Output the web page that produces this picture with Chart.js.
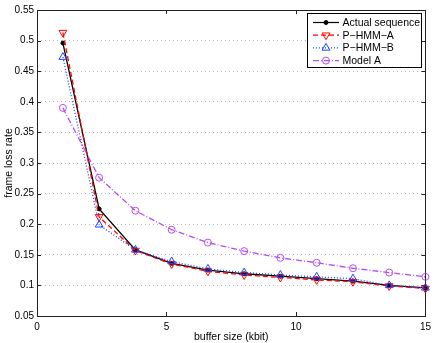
<!DOCTYPE html>
<html>
<head>
<meta charset="utf-8">
<script src="https://cdn.jsdelivr.net/npm/chart.js@4.4.1/dist/chart.umd.min.js"></script>
<style>
  html, body { margin: 0; padding: 0; background: #fff; }
  #wrap { width: 436px; height: 343px; }
</style>
</head>
<body>
<div id="wrap"><canvas id="c" width="436" height="343"></canvas></div>
<script>
// buffer sizes (kbit) on the x axis
const bufferSize = [1, 2.4, 3.8, 5.2, 6.6, 8, 9.4, 10.8, 12.2, 13.6, 15];

// frame loss rate per series
const actualSeq = [0.496, 0.225, 0.158, 0.136, 0.125, 0.119, 0.115, 0.111, 0.107, 0.100, 0.096];
const phmmA     = [0.513, 0.212, 0.157, 0.135, 0.123, 0.117, 0.113, 0.109, 0.106, 0.099, 0.095];
const phmmB     = [0.473, 0.199, 0.158, 0.139, 0.127, 0.121, 0.117, 0.114, 0.111, 0.100, 0.096];
const modelA    = [0.390, 0.276, 0.222, 0.191, 0.170, 0.156, 0.145, 0.137, 0.128, 0.121, 0.114];

const seriesNames = ['Actual sequence', 'P\u2212HMM\u2212A', 'P\u2212HMM\u2212B', 'Model A'];

const xTicks = [0, 5, 10, 15];
const yTicks = [0.05, 0.1, 0.15, 0.2, 0.25, 0.3, 0.35, 0.4, 0.45, 0.5, 0.55];

const FONT = "'Liberation Sans', Arial, Helvetica, sans-serif";
Chart.defaults.font.family = FONT;
Chart.defaults.font.size = 10;
Chart.defaults.color = '#000';

const toXY = ys => ys.map((y, i) => ({ x: bufferSize[i], y: y }));

// simple marker painter, shared by chart legend
function marker(ctx, style, x, y, r, color, fill) {
  ctx.save();
  ctx.strokeStyle = color;
  ctx.fillStyle = fill;
  ctx.lineWidth = 1;
  ctx.setLineDash([]);
  ctx.beginPath();
  if (style === 'circle') {
    ctx.arc(x, y, r, 0, Math.PI * 2);
  } else if (style === 'triUp') {
    ctx.moveTo(x, y - r);
    ctx.lineTo(x + r * 0.87, y + r * 0.5);
    ctx.lineTo(x - r * 0.87, y + r * 0.5);
    ctx.closePath();
  } else if (style === 'triDown') {
    ctx.moveTo(x, y + r);
    ctx.lineTo(x + r * 0.87, y - r * 0.5);
    ctx.lineTo(x - r * 0.87, y - r * 0.5);
    ctx.closePath();
  }
  ctx.fill();
  ctx.stroke();
  ctx.restore();
}

const legendItems = [
  { name: seriesNames[0], color: '#000000', dash: [], m: 'circle', r: 2, fill: '#000000' },
  { name: seriesNames[1], color: '#ff0000', dash: [5, 3], m: 'triDown', r: 4.5, fill: 'rgba(0,0,0,0)' },
  { name: seriesNames[2], color: '#1a44ff', dash: [1, 2], m: 'triUp', r: 4.5, fill: 'rgba(0,0,0,0)' },
  { name: seriesNames[3], color: '#b44cf0', dash: [6, 2, 1, 2], m: 'circle', r: 3.5, fill: 'rgba(0,0,0,0)' }
];

const framePlugin = {
  id: 'frame',
  beforeDatasetsDraw(chart) {
    const { ctx, chartArea: a, scales } = chart;
    ctx.save();
    ctx.strokeStyle = '#222';
    ctx.lineWidth = 1;
    ctx.strokeRect(Math.round(a.left) + 0.5, Math.round(a.top) + 0.5,
                   Math.round(a.right - a.left), Math.round(a.bottom - a.top));
    ctx.beginPath();
    yTicks.forEach(v => {
      const py = Math.round(scales.y.getPixelForValue(v)) + 0.5;
      ctx.moveTo(a.left, py); ctx.lineTo(a.left + 4, py);
      ctx.moveTo(a.right, py); ctx.lineTo(a.right - 4, py);
    });
    xTicks.forEach(v => {
      const px = Math.round(scales.x.getPixelForValue(v)) + 0.5;
      ctx.moveTo(px, a.bottom); ctx.lineTo(px, a.bottom - 4);
      ctx.moveTo(px, a.top); ctx.lineTo(px, a.top + 4);
    });
    ctx.stroke();
    ctx.restore();
  },
  afterDraw(chart) {
    const ctx = chart.ctx;
    const bx = 307.5, by = 13.5, bw = 114, bh = 54;
    ctx.save();
    ctx.fillStyle = '#fff';
    ctx.fillRect(bx, by, bw, bh);
    ctx.strokeStyle = '#000';
    ctx.lineWidth = 1;
    ctx.strokeRect(bx, by, bw, bh);
    ctx.font = '10.5px ' + FONT;
    ctx.textBaseline = 'middle';
    ctx.textAlign = 'left';
    legendItems.forEach((it, i) => {
      const y = 22.5 + i * 12.7;
      ctx.strokeStyle = it.color;
      ctx.lineWidth = 1.2;
      ctx.setLineDash(it.dash);
      ctx.beginPath();
      ctx.moveTo(313, y); ctx.lineTo(339, y);
      ctx.stroke();
      ctx.setLineDash([]);
      marker(ctx, it.m, 326, y, it.r, it.color, it.fill);
      ctx.fillStyle = '#000';
      ctx.fillText(it.name, 342.5, y + 0.5);
    });
    ctx.restore();
  }
};

const mkSet = (idx, data, ord) => {
  const it = legendItems[idx];
  return {
    label: it.name,
    data: toXY(data),
    borderColor: it.color,
    borderWidth: 1.3,
    borderDash: it.dash,
    pointStyle: it.m === 'circle' ? 'circle' : 'triangle',
    rotation: it.m === 'triDown' ? 180 : 0,
    pointRadius: it.r,
    pointBorderWidth: 1,
    pointBackgroundColor: it.fill,
    pointBorderColor: it.color,
    fill: false,
    tension: 0,
    clip: false,
    order: ord
  };
};

new Chart(document.getElementById('c'), {
  type: 'line',
  data: {
    datasets: [
      mkSet(0, actualSeq, 4),
      mkSet(1, phmmA, 3),
      mkSet(2, phmmB, 2),
      mkSet(3, modelA, 1)
    ]
  },
  options: {
    responsive: false,
    animation: false,
    devicePixelRatio: 1,
    layout: { padding: { left: 0, right: 10, top: 10, bottom: 0 } },
    plugins: { legend: { display: false }, tooltip: { enabled: false } },
    scales: {
      x: {
        type: 'linear',
        min: 0, max: 15,
        afterBuildTicks: s => { s.ticks = xTicks.map(v => ({ value: v })); },
        afterFit: s => { s.height = 27; },
        grid: { display: false, drawTicks: false },
        border: { display: false },
        ticks: { padding: 5, maxRotation: 0, font: { size: 10 } },
        title: { display: true, text: 'buffer size (kbit)', font: { size: 10.5 }, padding: { top: 0, bottom: 0 } }
      },
      y: {
        type: 'linear',
        min: 0.05, max: 0.55,
        afterBuildTicks: s => { s.ticks = yTicks.map(v => ({ value: v })); },
        afterFit: s => { s.width = 37; },
        grid: { color: '#b8b8b8', drawTicks: false, lineWidth: 1 },
        border: { display: false, dash: [1, 3] },
        ticks: {
          padding: 3,
          font: { size: 10 },
          callback: v => parseFloat(v.toFixed(2)).toString()
        },
        title: { display: true, text: 'frame loss rate', font: { size: 10.5 }, padding: { top: 3, bottom: 0 } }
      }
    }
  },
  plugins: [framePlugin]
});
</script>
</body>
</html>
